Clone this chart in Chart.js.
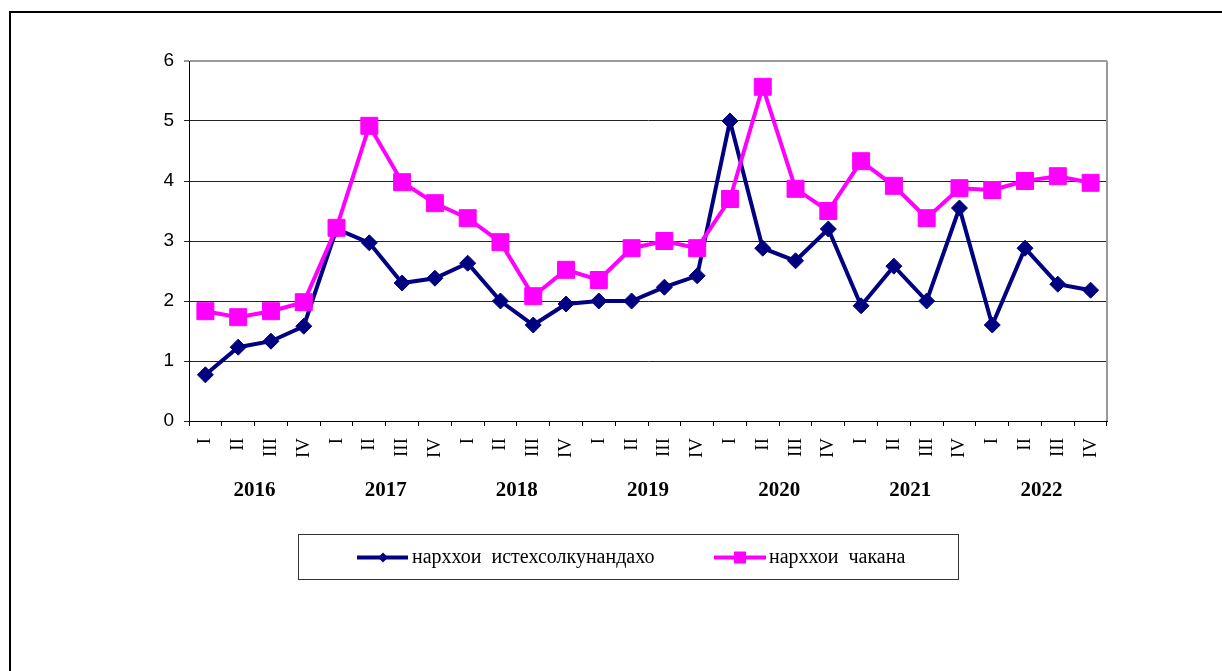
<!DOCTYPE html>
<html>
<head>
<meta charset="utf-8">
<script src="https://cdn.jsdelivr.net/npm/chart.js@4"></script>
<style>
    html, body { margin: 0; padding: 0; background: #fff; overflow: hidden; }
    #frame { position: absolute; left: 9px; top: 11px; width: 1400px; height: 900px;
             border-top: 2px solid #000; border-left: 2px solid #000; }
    #chart { position: absolute; left: 0; top: 0; }
</style>
</head>
<body>
<div id="frame"></div>
<canvas id="chart" width="1222" height="671"></canvas>
<script>
// Quarters I..IV for 2016-2022
const quarterNames = ['I', 'II', 'III', 'IV'];
const years = ['2016', '2017', '2018', '2019', '2020', '2021', '2022'];
const quarters = years.flatMap(() => quarterNames);

// нарххои истехсолкунандахо (producer prices)
const producerPrices = [
    0.77, 1.23, 1.33, 1.58,
    3.20, 2.97, 2.30, 2.38,
    2.63, 2.00, 1.60, 1.95,
    2.00, 2.00, 2.23, 2.42,
    5.00, 2.88, 2.67, 3.20,
    1.92, 2.58, 2.00, 3.55,
    1.60, 2.88, 2.28, 2.18
];

// нарххои чакана (retail prices)
const retailPrices = [
    1.83, 1.73, 1.83, 1.98,
    3.22, 4.92, 3.98, 3.63,
    3.38, 2.98, 2.08, 2.52,
    2.35, 2.88, 3.00, 2.88,
    3.70, 5.57, 3.87, 3.50,
    4.33, 3.92, 3.38, 3.88,
    3.85, 4.00, 4.08, 3.97
];

const seriesLabels = ['нарххои  истехсолкунандахо', 'нарххои  чакана'];
const NAVY = '#000080';
const MAGENTA = '#FF00FF';

// Plot frame, year captions and the boxed legend
const extrasPlugin = {
    id: 'extras',
    afterDraw(chart) {
        const ctx = chart.ctx;
        const area = chart.chartArea;
        const xs = chart.scales.x;
        ctx.save();

        // grey right edge of the plot area
        ctx.strokeStyle = '#999';
        ctx.lineWidth = 2;
        ctx.beginPath();
        ctx.moveTo(area.right, area.top);
        ctx.lineTo(area.right, area.bottom);
        ctx.stroke();

        // year captions under each group of four quarters
        ctx.fillStyle = '#000';
        ctx.font = 'bold 21px "Liberation Serif"';
        ctx.textAlign = 'center';
        ctx.textBaseline = 'middle';
        years.forEach((y, i) => {
            const cx = (xs.getPixelForValue(i * 4 + 1) + xs.getPixelForValue(i * 4 + 2)) / 2;
            ctx.fillText(y, cx, area.bottom + 70);
        });

        // legend box
        const box = { x: 298, y: 534, w: 660, h: 45 };
        ctx.strokeStyle = '#333';
        ctx.lineWidth = 1;
        ctx.strokeRect(box.x + 0.5, box.y + 0.5, box.w, box.h);
        const cy = box.y + box.h / 2 + 1;
        ctx.font = '20px "Liberation Serif"';
        ctx.textAlign = 'left';

        // navy item
        ctx.strokeStyle = NAVY;
        ctx.lineWidth = 4;
        ctx.beginPath();
        ctx.moveTo(357, cy);
        ctx.lineTo(408, cy);
        ctx.stroke();
        ctx.fillStyle = NAVY;
        ctx.beginPath();
        ctx.moveTo(383 - 5, cy);
        ctx.lineTo(383, cy - 5);
        ctx.lineTo(383 + 5, cy);
        ctx.lineTo(383, cy + 5);
        ctx.closePath();
        ctx.fill();
        ctx.fillStyle = '#000';
        ctx.fillText(seriesLabels[0], 412, cy);

        // magenta item
        ctx.strokeStyle = MAGENTA;
        ctx.beginPath();
        ctx.moveTo(714, cy);
        ctx.lineTo(766, cy);
        ctx.stroke();
        ctx.fillStyle = MAGENTA;
        ctx.fillRect(740 - 6, cy - 6, 12, 12);
        ctx.fillStyle = '#000';
        ctx.fillText(seriesLabels[1], 769, cy);

        ctx.restore();
    }
};

new Chart(document.getElementById('chart'), {
    type: 'line',
    data: {
        labels: quarters,
        datasets: [{
            label: seriesLabels[0],
            data: producerPrices,
            borderColor: NAVY,
            backgroundColor: NAVY,
            borderWidth: 4,
            pointStyle: 'rectRot',
            pointRadius: 8,
            pointBorderWidth: 1,
            tension: 0,
            order: 1
        }, {
            label: seriesLabels[1],
            data: retailPrices,
            borderColor: MAGENTA,
            backgroundColor: MAGENTA,
            borderWidth: 4,
            pointStyle: 'rect',
            pointRadius: 12,
            pointBorderWidth: 1,
            tension: 0,
            order: 0
        }]
    },
    options: {
        responsive: false,
        animation: false,
        layout: { padding: { top: 61, right: 115, left: 0, bottom: 0 } },
        plugins: {
            legend: { display: false },
            tooltip: { enabled: false }
        },
        scales: {
            x: {
                offset: true,
                grid: {
                    offset: true,
                    drawOnChartArea: false,
                    drawTicks: true,
                    tickLength: 5,
                    color: '#000'
                },
                border: { color: '#000', width: 1 },
                ticks: {
                    autoSkip: false,
                    minRotation: 90,
                    maxRotation: 90,
                    padding: 12,
                    color: '#000',
                    font: { family: 'Liberation Serif', size: 19 }
                },
                afterFit(scale) { scale.height = 250; }
            },
            y: {
                min: 0,
                max: 6,
                ticks: {
                    stepSize: 1,
                    padding: 10,
                    color: '#000',
                    font: { family: 'Liberation Sans', size: 19 }
                },
                grid: {
                    tickLength: 5,
                    color: ctx => ctx.tick && ctx.tick.value === 6 ? '#999' : '#222',
                    lineWidth: ctx => ctx.tick && ctx.tick.value === 6 ? 2 : 1
                },
                border: { color: '#000', width: 1 },
                afterFit(scale) { scale.width = 189; }
            }
        }
    },
    plugins: [extrasPlugin]
});
</script>
</body>
</html>
